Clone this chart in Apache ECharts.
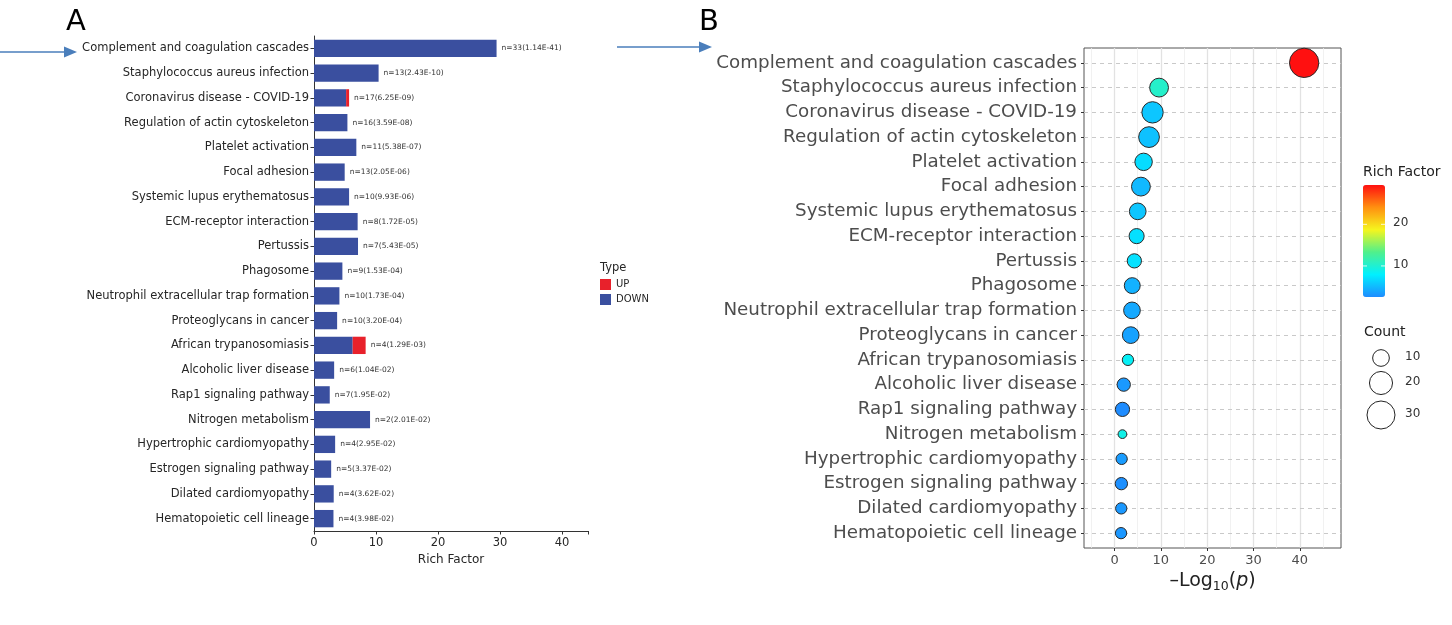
<!DOCTYPE html>
<html>
<head>
<meta charset="utf-8">
<script src="https://cdn.jsdelivr.net/npm/echarts@6/dist/echarts.min.js"></script>
<style>
  html, body { margin: 0; padding: 0; background: #fff; }
  #chart { width: 1452px; height: 625px; }
</style>
</head>
<body>
<div id="chart"></div>
<script>
// KEGG pathways, top to bottom
const pathways = [
  'Complement and coagulation cascades', 'Staphylococcus aureus infection', 'Coronavirus disease - COVID-19',
  'Regulation of actin cytoskeleton', 'Platelet activation', 'Focal adhesion', 'Systemic lupus erythematosus',
  'ECM-receptor interaction', 'Pertussis', 'Phagosome', 'Neutrophil extracellular trap formation',
  'Proteoglycans in cancer', 'African trypanosomiasis', 'Alcoholic liver disease', 'Rap1 signaling pathway',
  'Nitrogen metabolism', 'Hypertrophic cardiomyopathy', 'Estrogen signaling pathway', 'Dilated cardiomyopathy',
  'Hematopoietic cell lineage'
];
// panel A: rich factor split by regulation type
const downFactor = [29.45, 10.42, 5.18, 5.39, 6.83, 4.95, 5.66, 7.04, 7.10, 4.58, 4.10, 3.73, 6.24, 3.25, 2.54, 9.04, 3.41, 2.77, 3.18, 3.14];
const upFactor   = [0, 0, 0.48, 0, 0, 0, 0, 0, 0, 0, 0, 0, 2.09, 0, 0, 0, 0, 0, 0, 0];
const geneCount  = [33, 13, 17, 16, 11, 13, 10, 8, 7, 9, 10, 10, 4, 6, 7, 2, 4, 5, 4, 4];
const pValueText = ['1.14E-41', '2.43E-10', '6.25E-09', '3.59E-08', '5.38E-07', '2.05E-06', '9.93E-06', '1.72E-05',
  '5.43E-05', '1.53E-04', '1.73E-04', '3.20E-04', '1.29E-03', '1.04E-02', '1.95E-02', '2.01E-02', '2.95E-02',
  '3.37E-02', '3.62E-02', '3.98E-02'];
// panel B: bubble positions and colours
const negLog10P  = [40.94, 9.61, 8.20, 7.44, 6.27, 5.69, 5.00, 4.76, 4.27, 3.82, 3.76, 3.49, 2.89, 1.98, 1.71, 1.70, 1.53, 1.47, 1.44, 1.40];
const richFactor = [29.45, 10.42, 5.66, 5.39, 6.83, 4.95, 5.66, 7.04, 7.10, 4.58, 4.10, 3.73, 8.33, 3.25, 2.54, 9.04, 3.41, 2.77, 3.18, 3.14];
const xTicksA = [0, 10, 20, 30, 40];
const xTicksB = [0, 10, 20, 30, 40];
const xMinorB = [-5, 5, 15, 25, 35, 45];
const colorTicks = [10, 20];
const countLegend = [10, 20, 30];

const FONT = 'DejaVu Sans';
const rfMin = Math.min(...richFactor), rfMax = Math.max(...richFactor);
const bubbleSize = n => Math.sqrt(26 + 25.3 * n);
const rowIdx = pathways.map((_, i) => i + 1);

// colour bar geometry
const cbLeft = 1363, cbTop = 185, cbW = 22, cbH = 112;
const cbY = v => cbTop + (rfMax - v) / (rfMax - rfMin) * cbH;

const graphics = [
  { type: 'text', left: 66, top: 8, style: { text: 'A', font: '29px ' + FONT, fill: '#000' } },
  { type: 'text', left: 699, top: 8, style: { text: 'B', font: '29px ' + FONT, fill: '#000' } },
  // arrows
  { type: 'line', shape: { x1: 0, y1: 52, x2: 66, y2: 52 }, style: { stroke: '#4a7ebb', lineWidth: 1.5 } },
  { type: 'polygon', shape: { points: [[64, 46.5], [77, 52], [64, 57.5]] }, style: { fill: '#4a7ebb' } },
  { type: 'line', shape: { x1: 617, y1: 47, x2: 701, y2: 47 }, style: { stroke: '#4a7ebb', lineWidth: 1.5 } },
  { type: 'polygon', shape: { points: [[699, 41.5], [712, 47], [699, 52.5]] }, style: { fill: '#4a7ebb' } },
  // legend titles
  { type: 'text', left: 600, top: 262, style: { text: 'Type', font: '11.5px ' + FONT, fill: '#262626' } },
  { type: 'text', left: 1363, top: 165, style: { text: 'Rich Factor', font: '14px ' + FONT, fill: '#222' } },
  { type: 'text', left: 1364, top: 325, style: { text: 'Count', font: '14px ' + FONT, fill: '#222' } }
];
colorTicks.forEach(v => {
  const y = cbY(v);
  graphics.push({ type: 'line', z: 100, shape: { x1: cbLeft, y1: y, x2: cbLeft + 4, y2: y }, style: { stroke: '#fff', lineWidth: 0.8 } });
  graphics.push({ type: 'line', z: 100, shape: { x1: cbLeft + cbW - 4, y1: y, x2: cbLeft + cbW, y2: y }, style: { stroke: '#fff', lineWidth: 0.8 } });
  graphics.push({ type: 'text', left: cbLeft + cbW + 8, top: y - 7, style: { text: String(v), font: '12px ' + FONT, fill: '#333' } });
});
const countY = [358, 383, 415];
countLegend.forEach((n, k) => {
  graphics.push({ type: 'circle', shape: { cx: 1381, cy: countY[k], r: bubbleSize(n) / 2 }, style: { fill: '#fff', stroke: '#222', lineWidth: 1 } });
  graphics.push({ type: 'text', left: 1405, top: countY[k] - 7, style: { text: String(n), font: '12px ' + FONT, fill: '#333' } });
});

const chart = echarts.init(document.getElementById('chart'));
chart.setOption({
  animation: false,
  textStyle: { fontFamily: FONT },
  grid: [
    { left: 314, top: 36, width: 274, height: 495 },
    { left: 1084, top: 48, width: 257, height: 500, show: true, borderColor: '#555', borderWidth: 1, backgroundColor: '#fff' }
  ],
  legend: {
    data: ['UP', 'DOWN'], orient: 'vertical', left: 600, top: 279, padding: 0,
    itemWidth: 11, itemHeight: 11, itemGap: 4, icon: 'rect', selectedMode: false,
    textStyle: { fontSize: 10, color: '#262626', fontFamily: FONT }
  },
  xAxis: [
    {
      gridIndex: 0, type: 'value', min: 0, max: 44.2, interval: 10,
      axisLine: { show: true, onZero: false, lineStyle: { color: '#333' } },
      axisTick: { show: true, length: 3.5, lineStyle: { color: '#333' } },
      axisLabel: { fontSize: 11.5, color: '#262626', margin: 6, customValues: xTicksA },
      splitLine: { show: false },
      name: 'Rich Factor', nameLocation: 'middle', nameGap: 12,
      nameTextStyle: { fontSize: 12, color: '#262626', verticalAlign: 'top' }
    },
    {
      gridIndex: 1, type: 'value', min: -6.6, max: 48.9,
      axisLine: { show: false, onZero: false },
      axisTick: { show: true, length: 3, lineStyle: { color: '#333' }, customValues: xTicksB },
      axisLabel: { fontSize: 13, color: '#4d4d4d', margin: 6, customValues: xTicksB },
      splitLine: { show: false },
      name: '{a|–Log}{s|10}{a|(}{i|p}{a|)}', nameLocation: 'middle', nameGap: 18,
      nameTextStyle: {
        verticalAlign: 'top',
        rich: {
          a: { fontSize: 19, color: '#222', fontFamily: FONT },
          s: { fontSize: 12.5, color: '#222', fontFamily: FONT, verticalAlign: 'bottom', padding: [10, 0, 0, 0] },
          i: { fontSize: 19, color: '#222', fontFamily: FONT, fontStyle: 'italic' }
        }
      }
    }
  ],
  yAxis: [
    {
      gridIndex: 0, type: 'category', data: pathways, inverse: true,
      axisLine: { show: true, onZero: false, lineStyle: { color: '#333' } },
      axisTick: { show: true, length: 3.5, alignWithLabel: true, lineStyle: { color: '#333' } },
      axisLabel: { fontSize: 11.5, color: '#262626', margin: 5, interval: 0 }
    },
    {
      gridIndex: 1, type: 'value', min: 0.4, max: 20.6, inverse: true,
      axisLine: { show: false, onZero: false },
      axisTick: { show: true, length: 3, lineStyle: { color: '#333' }, customValues: rowIdx },
      axisLabel: {
        fontSize: 18.3, color: '#4d4d4d', margin: 7, customValues: rowIdx,
        formatter: v => pathways[Math.round(v) - 1]
      },
      splitLine: { show: false }
    }
  ],
  visualMap: {
    type: 'continuous', seriesIndex: 3, dimension: 3, min: rfMin, max: rfMax,
    inRange: { color: ['#1E8CFF', '#00F0FF', '#50F08C', '#F5F51E', '#FF9010', '#FF1010'] },
    left: cbLeft, top: cbTop, itemWidth: cbW, itemHeight: cbH, padding: 0,
    calculable: false, text: null, orient: 'vertical'
  },
  series: [
    {
      name: 'DOWN', type: 'bar', stack: 'rf', xAxisIndex: 0, yAxisIndex: 0,
      data: downFactor, barWidth: '70%', itemStyle: { color: '#3A4F9F' }
    },
    {
      name: 'UP', type: 'bar', stack: 'rf', xAxisIndex: 0, yAxisIndex: 0,
      data: upFactor, barWidth: '70%', itemStyle: { color: '#E8212B' },
      label: {
        show: true, position: 'right', distance: 5, fontSize: 7.5, color: '#333',
        formatter: p => 'n=' + geneCount[p.dataIndex] + '(' + pValueText[p.dataIndex] + ')'
      }
    },
    {
      // panel B grid lines, drawn through the axis scales
      type: 'scatter', xAxisIndex: 1, yAxisIndex: 1, data: [], silent: true, z: 1,
      markLine: {
        z: 1, symbol: 'none', silent: true, label: { show: false },
        data: [
          ...xMinorB.map(v => ({ xAxis: v, lineStyle: { color: '#ededed', width: 0.8, type: 'solid' } })),
          ...xTicksB.map(v => ({ xAxis: v, lineStyle: { color: '#e2e2e2', width: 1.3, type: 'solid' } })),
          ...rowIdx.map(v => ({ yAxis: v, lineStyle: { color: '#c9c9c9', width: 1, type: [4, 4] } }))
        ]
      }
    },
    {
      type: 'scatter', xAxisIndex: 1, yAxisIndex: 1, z: 10,
      data: pathways.map((_, i) => [negLog10P[i], i + 1, geneCount[i], richFactor[i]]),
      symbolSize: d => bubbleSize(d[2]),
      itemStyle: { borderColor: '#2a2a2a', borderWidth: 1, opacity: 1 }
    }
  ],
  graphic: graphics
});
</script>
</body>
</html>
